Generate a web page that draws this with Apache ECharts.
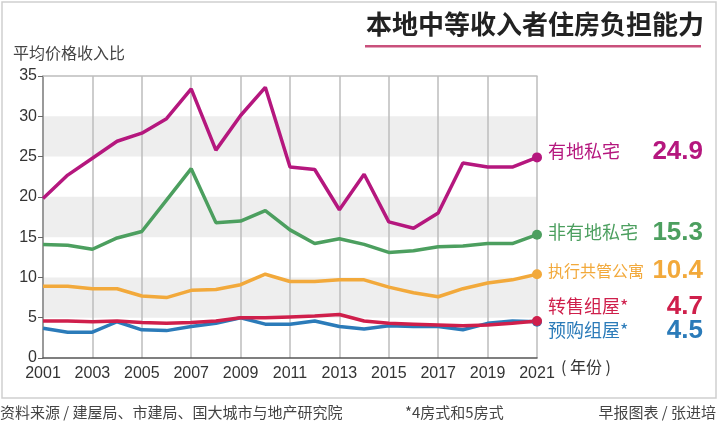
<!DOCTYPE html>
<html>
<head>
<meta charset="utf-8">
<script src="https://cdn.jsdelivr.net/npm/echarts@6/dist/echarts.min.js"></script>
<style>
  html, body { margin: 0; padding: 0; background: #fff; }
  #chart { width: 720px; height: 431px; }
</style>
</head>
<body>
<div id="chart"></div>
<script>
// years 2001-2021
var years = ['2001','2002','2003','2004','2005','2006','2007','2008','2009','2010',
  '2011','2012','2013','2014','2015','2016','2017','2018','2019','2020','2021']

// 平均价格收入比
var landed = [19.8,22.7,24.8,26.9,27.9,29.7,33.4,25.8,30.1,33.6,23.7,23.4,18.4,22.8,16.9,16.1,18.0,24.2,23.7,23.7,24.9]
var nonLanded = [14.1,14.0,13.5,14.9,15.7,19.6,23.5,16.8,17.0,18.3,15.9,14.2,14.8,14.1,13.1,13.3,13.8,13.9,14.2,14.2,15.3]
var ec = [8.9,8.9,8.6,8.6,7.7,7.5,8.4,8.5,9.1,10.4,9.5,9.5,9.7,9.7,8.8,8.1,7.6,8.6,9.3,9.7,10.4]
var resale = [4.6,4.6,4.5,4.6,4.4,4.3,4.4,4.6,5.0,5.0,5.1,5.2,5.4,4.6,4.3,4.2,4.1,4.0,4.1,4.3,4.6]
var bto = [3.7,3.2,3.2,4.5,3.5,3.4,3.9,4.3,5.0,4.2,4.2,4.6,3.9,3.6,4.0,3.9,3.9,3.5,4.3,4.6,4.5]

var names = ['有地私宅','非有地私宅','执行共管公寓','转售组屋*','预购组屋*']
var endValues = ['24.9','15.3','10.4','4.7','4.5']
var colors = ['#b5177e','#4c9f5f','#f2a93b','#cf1f4b','#2b7bb9']

var chart = echarts.init(document.getElementById('chart'))

function lineSeries(name, data, color) {
  return {
    name: name,
    type: 'line',
    data: data,
    showAllSymbol: true,
    symbol: function (v, p) { return p.dataIndex === data.length - 1 ? 'circle' : 'none' },
    symbolSize: 10,
    lineStyle: {color: color, width: 3.5},
    itemStyle: {color: color},
    z: 3
  }
}

// right side label positions (y)
var labelY = [155, 236, 274, 310, 334]
var labelFont = [18, 18, 16, 18, 18]

var graphics = [
  {type: 'rect', shape: {x: 2, y: 2, width: 714, height: 396},
    style: {fill: 'none', stroke: '#cfcfcf', lineWidth: 1.5}, z: -1},
  {type: 'text', left: 366, top: 11,
    style: {text: '本地中等收入者住房负担能力', fill: '#222',
      font: 'bold 26px "Noto Sans CJK SC"'}},
  {type: 'rect', shape: {x: 365, y: 45, width: 336, height: 2.5},
    style: {fill: '#c9507c'}},
  {type: 'text', left: 13, top: 45,
    style: {text: '平均价格收入比', fill: '#444', font: '16px "Noto Sans CJK SC"'}},
  {type: 'text', left: 561, top: 359,
    style: {text: '( 年份 )', fill: '#333', font: '16px "Noto Sans CJK SC"'}},
  {type: 'text', left: 0, top: 405,
    style: {text: '资料来源 / 建屋局、市建局、国大城市与地产研究院', fill: '#444', font: '15px "Noto Sans CJK SC"'}},
  {type: 'text', left: 405, top: 405,
    style: {text: '*4房式和5房式', fill: '#444', font: '15px "Noto Sans CJK SC"'}},
  {type: 'text', right: 4, top: 405,
    style: {text: '早报图表 / 张进培', fill: '#444', font: '15px "Noto Sans CJK SC"'}}
]

names.forEach(function (n, i) {
  graphics.push({type: 'text', left: 548, top: labelY[i] - labelFont[i] * 0.72,
    style: {text: n, fill: colors[i], font: labelFont[i] + 'px "Noto Sans CJK SC"'}})
  graphics.push({type: 'text', right: 17, top: labelY[i] - 16,
    style: {text: endValues[i], fill: colors[i], font: 'bold 26px "Liberation Sans"'}})
})

var option = {
  animation: false,
  backgroundColor: '#fff',
  grid: {left: 43, right: 183, top: 76, bottom: 73},
  xAxis: [
    {
      type: 'category',
      data: years,
      boundaryGap: false,
      axisLine: {lineStyle: {color: '#555', width: 1.5}},
      axisTick: {show: false},
      axisLabel: {interval: 1, color: '#333', fontSize: 16, margin: 8,
        fontFamily: '"Liberation Sans", Arial'},
      splitLine: {show: true, lineStyle: {color: '#bdbdbd', width: 1.5}}
    },
    {
      type: 'category',
      data: years,
      boundaryGap: false,
      position: 'top',
      axisLine: {lineStyle: {color: '#bdbdbd', width: 1.5}},
      axisTick: {show: false},
      axisLabel: {show: false}
    }
  ],
  yAxis: {
    type: 'value',
    min: 0,
    max: 35,
    interval: 5,
    axisLine: {show: true, lineStyle: {color: '#888', width: 1.5}},
    axisTick: {show: true, length: 5, lineStyle: {color: '#666'}},
    axisLabel: {color: '#333', fontSize: 16, margin: 6, fontFamily: '"Liberation Sans", Arial'},
    splitLine: {show: false},
    splitArea: {show: true, areaStyle: {color: ['rgba(255,255,255,0)', '#eeeeee']}}
  },
  series: [
    lineSeries(names[4], bto, colors[4]),
    lineSeries(names[3], resale, colors[3]),
    lineSeries(names[2], ec, colors[2]),
    lineSeries(names[1], nonLanded, colors[1]),
    lineSeries(names[0], landed, colors[0])
  ],
  graphic: graphics
}

chart.setOption(option)
</script>
</body>
</html>
